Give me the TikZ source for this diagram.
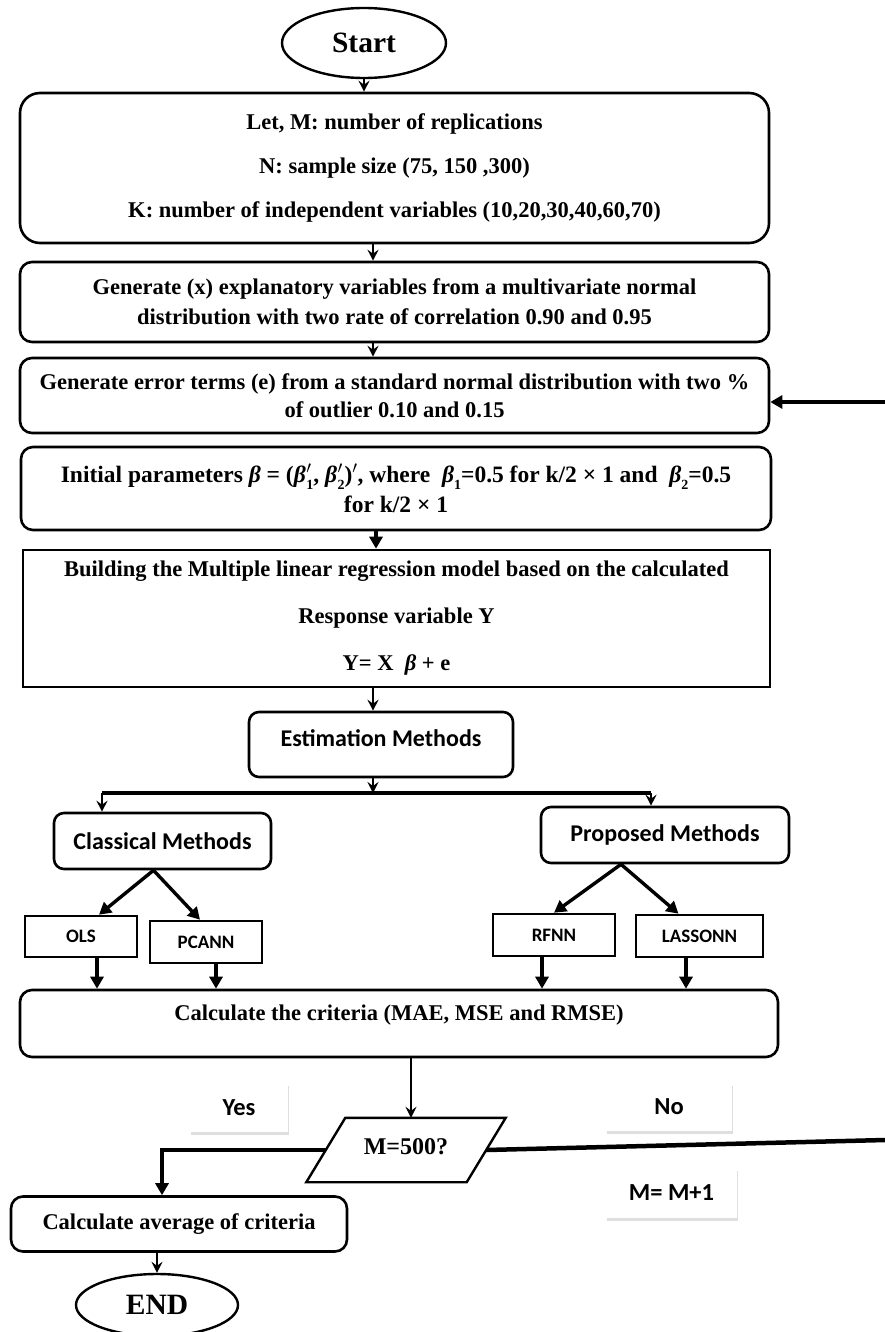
\documentclass[tikz,border=0pt]{standalone}
\usepackage{fontspec}
\setmainfont{Liberation Serif}
\newfontfamily\calfont{Carlito}
\usetikzlibrary{arrows.meta,shapes.geometric,shadows,calc}
\newcommand{\bpr}[1]{\textit{β}\kern0.5pt\rlap{$^{\prime}$}\raisebox{-0.3em}{\fontsize{14}{14}\selectfont #1}}
\newcommand{\bsb}[1]{\textit{β}\raisebox{-0.3em}{\fontsize{14}{14}\selectfont #1}}
\begin{document}
\begin{tikzpicture}[x=1pt,y=-1pt,
  rbox/.style={draw,line width=2.6pt,rounded corners=12pt,align=center,font=\fontsize{22.5}{27}\selectfont\bfseries,inner sep=0pt},
  sbox/.style={draw,line width=2.6pt,align=center,font=\fontsize{22.5}{27}\selectfont\bfseries,inner sep=0pt},
  cbox/.style={draw,line width=2.6pt,rounded corners=10pt,font=\fontsize{24}{28}\selectfont\calfont\bfseries,inner sep=0pt},
  mbox/.style={draw,line width=2.6pt,font=\fontsize{19}{22}\selectfont\calfont\bfseries,inner sep=0pt},
  shbox/.style={fill=white,font=\fontsize{24.5}{28}\selectfont\calfont\bfseries,inner sep=0pt,
     drop shadow={shadow xshift=1pt,shadow yshift=-3pt,fill=black!25,opacity=0.5}},
  term/.style={draw,ellipse,line width=2.4pt,inner sep=0pt,font=\fontsize{29.5}{32}\selectfont\bfseries},
  thinarr/.style={line width=1.8pt,-{Stealth[length=11pt,width=11pt,inset=4pt]}},
  thickarr/.style={line width=3.4pt,-{Triangle[length=12pt,width=13pt]}},
  thickline/.style={line width=3.4pt}]
\useasboundingbox (0,0) rectangle (885,1332);

\node[term,minimum width=164pt,minimum height=70pt] (start) at (364,43) {Start};

\node[rbox,rounded corners=20pt,minimum width=749pt,minimum height=150pt] (b1) at (394.5,168)
  {Let, M: number of replications\\[17pt]N: sample size (75, 150 ,300)\\[17pt]K: number of independent variables (10,20,30,40,60,70)};

\node[rbox,minimum width=749pt,minimum height=80pt] (b2) at (394.5,302)
  {Generate (x) explanatory variables from a multivariate normal\\[3pt]distribution with two rate of correlation 0.90 and 0.95};

\node[rbox,minimum width=749pt,minimum height=75pt] (b3) at (394.5,395.5)
  {Generate error terms (e) from a standard normal distribution with two \%\\[1pt]of outlier 0.10 and 0.15};

\node[rbox,minimum width=750pt,minimum height=83pt,font=\fontsize{23.5}{27}\selectfont\bfseries] (b4) at (396,488.5)
  {Initial parameters \textit{β} = (\bpr{1}, \bpr{2})$'$, where \ \bsb{1}=0.5 for k/2 × 1 and \ \bsb{2}=0.5\\[3pt]for k/2 × 1};

\node[sbox,minimum width=747pt,minimum height=137pt] (b5) at (396.5,618.5)
  {Building the Multiple linear regression model based on the calculated\\[20pt]Response variable Y\\[20pt]Y= X \ \textit{β} + e};

\node[cbox,minimum width=264pt,minimum height=65pt] (est) at (381,744.5) {};
\node[font=\fontsize{24}{28}\selectfont\calfont\bfseries,inner sep=0pt] (estT) at (381,738) {Estimation Methods};

\coordinate (brL) at (102,793);
\coordinate (brM) at (373,793);
\coordinate (brR) at (651,793);

\node[cbox,minimum width=217pt,minimum height=56pt] (cls) at (162.5,841) {Classical Methods};
\node[cbox,minimum width=248pt,minimum height=56pt] (pro) at (665,835) {Proposed Methods};

\node[mbox,minimum width=112pt,minimum height=41pt] (ols) at (81,936.5) {OLS};
\node[mbox,minimum width=112pt,minimum height=42pt] (pca) at (206,942) {PCANN};
\node[mbox,minimum width=122pt,minimum height=42pt] (rfnn) at (554,935) {RFNN};
\node[mbox,minimum width=127pt,minimum height=42pt] (las) at (699.5,936) {LASSONN};

\node[rbox,minimum width=758pt,minimum height=67pt] (calc) at (399,1023.5) {};
\node[font=\fontsize{22.5}{27}\selectfont\bfseries,inner sep=0pt] (calcT) at (399,1015) {Calculate the criteria (MAE, MSE and RMSE)};

\node[shbox,minimum width=98pt,minimum height=49pt] (yes) at (239,1107.5) {Yes};
\node[shbox,minimum width=126pt,minimum height=48pt] (no) at (669,1106.5) {No};
\node[shbox,minimum width=131pt,minimum height=50pt] (inc) at (671.5,1193) {M= M+1};

\node[minimum width=160pt,minimum height=64pt,inner sep=0pt,
  font=\fontsize{24}{28}\selectfont\bfseries] (mq) at (406,1150) {\raisebox{7pt}{M=500?}};
\draw[line width=2.4pt,line join=miter] ([xshift=19.5pt]mq.north west) -- ([xshift=19.5pt]mq.north east)
  -- ([xshift=-19.5pt]mq.south east) -- ([xshift=-19.5pt]mq.south west) -- cycle;

\node[rbox,minimum width=336pt,minimum height=55pt] (avg) at (179,1224) {Calculate average of criteria};

\node[term,minimum width=162pt,minimum height=62pt] (end) at (157,1305) {END};

\coordinate (noR) at (885,1140);
\coordinate (fbR) at (885,402);

% main flow
\draw[thinarr] (start.south) -- (start.south |- b1.north);
\draw[thinarr] ([xshift=9pt]start.south |- b1.south) -- ([xshift=9pt]start.south |- b2.north);
\draw[thinarr] ([xshift=9pt]start.south |- b2.south) -- ([xshift=9pt]start.south |- b3.north);
\draw[thickarr] ([xshift=12pt]start.south |- b4.south) -- ([xshift=12pt]start.south |- b5.north);
\draw[thinarr] (brM |- b5.south) -- (brM |- est.north);
\draw[thinarr] (brM |- est.south) -- (brM);
\draw[thickline] (brL) -- (brR);
\draw[thinarr] (brL) -- (brL |- cls.north);
\draw[thinarr] (brR) -- (brR |- pro.north);

\draw[thickarr] ([xshift=-9pt]cls.south) -- ([xshift=18pt]ols.north);
\draw[thickarr] ([xshift=-9pt]cls.south) -- ([xshift=-6pt]pca.north);
\draw[thickarr] ([xshift=-44pt]pro.south) -- (rfnn.north);
\draw[thickarr] ([xshift=-44pt]pro.south) -- ([xshift=-21pt]las.north);

\draw[thickarr] ([xshift=16pt]ols.south) -- ([xshift=16pt]ols.south |- calc.north);
\draw[thickarr] ([xshift=10pt]pca.south) -- ([xshift=10pt]pca.south |- calc.north);
\draw[thickarr] ([xshift=-12pt]rfnn.south) -- ([xshift=-12pt]rfnn.south |- calc.north);
\draw[thickarr] ([xshift=-13.5pt]las.south) -- ([xshift=-13.5pt]las.south |- calc.north);

\draw[thinarr] ([xshift=12pt]calc.south) -- ([xshift=12pt]calc.south |- mq.north);
\draw[thickarr] (mq.west) -| ([xshift=-17pt]avg.north);
\draw[thinarr] (end.north |- avg.south) -- (end.north);

\draw[line width=4.5pt] (mq.east) -- (noR);
\draw[thickarr] (fbR) -- (b3.east |- fbR);
\end{tikzpicture}
\end{document}
